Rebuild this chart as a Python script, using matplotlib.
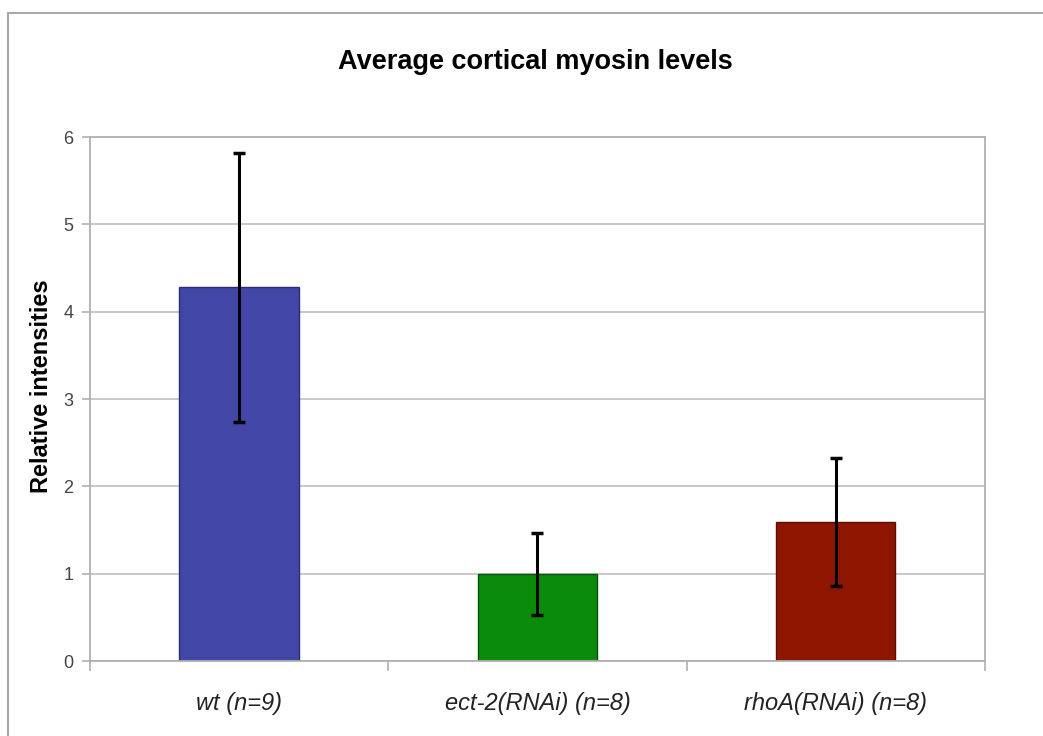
import numpy as np
import matplotlib
matplotlib.use("Agg")
from matplotlib import pyplot as plt
from matplotlib.patches import Rectangle

plt.rcParams["font.family"] = ["Liberation Sans", "DejaVu Sans"]

# chart data
groups = ["wt (n=9)", "ect-2(RNAi) (n=8)", "rhoA(RNAi) (n=8)"]
intensities = [4.28, 1.0, 1.59]
errors = [1.54, 0.47, 0.73]
bar_colors = ["#4246A6", "#0A8C0A", "#8E1500"]
edge_colors = ["#2A2E70", "#06500A", "#5A0D00"]
y_ticks = [0, 1, 2, 3, 4, 5, 6]

fig = plt.figure(figsize=(10.43, 7.36), dpi=100)
ax = fig.add_axes([90 / 1043, 75 / 736, 895 / 1043, 524 / 736])

# outer chart frame
fig.patches.append(Rectangle((8 / 1043, -0.05), 1.1, (736 - 13) / 736 + 0.05,
                             transform=fig.transFigure, fill=False,
                             edgecolor="#A8A8A8", linewidth=1.5, clip_on=False))

x = np.arange(len(groups))
ax.bar(x, intensities, width=0.4, color=bar_colors, edgecolor=edge_colors,
       linewidth=1.0, zorder=2)
ax.errorbar(x, intensities, yerr=errors, fmt="none", ecolor="black",
            elinewidth=2.2, capsize=4.5, capthick=2.5, zorder=3)

ax.set_xlim(-0.5, 2.5)
ax.set_ylim(0, 6)
ax.set_yticks(y_ticks)
ax.grid(axis="y", color="#C4C4C4", linewidth=1.3, zorder=0)
ax.set_axisbelow(True)

ax.set_xticks(x)
ax.set_xticklabels(groups, fontsize=17, style="italic", color="#222222")
ax.set_xticks([-0.5, 0.5, 1.5, 2.5], minor=True)
ax.tick_params(axis="x", which="major", length=0, pad=22)
ax.tick_params(axis="x", which="minor", length=7, width=1.2, color="#B0B0B0")
ax.tick_params(axis="y", length=6, width=1.2, color="#B0B0B0", labelsize=13,
               labelcolor="#444444", pad=6)

for side in ["left", "right", "top", "bottom"]:
    ax.spines[side].set_color("#B0B0B0")
    ax.spines[side].set_linewidth(1.3)

fig.text(42 / 1043, 1 - 386 / 736, "Relative intensities", rotation=90,
         ha="center", va="center", fontsize=17, fontweight="bold")
fig.text(535 / 1043, 1 - 62 / 736, "Average cortical myosin levels",
         ha="center", va="center", fontsize=19.5, fontweight="bold")

fig.savefig("out.png", dpi=100)
